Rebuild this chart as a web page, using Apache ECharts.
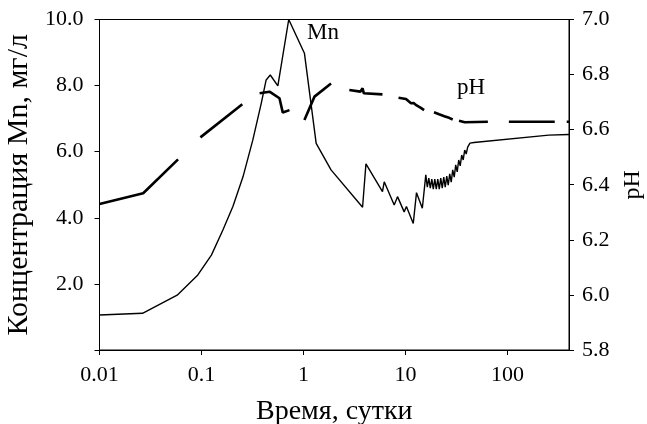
<!DOCTYPE html>
<html lang="ru">
  <head>
    <meta charset="UTF-8" />
    <title>Mn и pH</title>
    <style>
      html, body { margin: 0; padding: 0; background: #fff; }
      #main { width: 647px; height: 424px; }
    </style>
  </head>
  <body>
    <div id="main"></div>
    <script src="https://cdn.jsdelivr.net/npm/echarts@6/dist/echarts.min.js"></script>
    <script>
      // время (сутки), концентрация Mn (мг/л)
      var mnTime = [0.01, 0.0264, 0.0577, 0.092, 0.125, 0.162, 0.203, 0.255, 0.318, 0.385, 0.43, 0.472, 0.56, 0.716,
        1.02, 1.33, 1.86, 3.79, 4.09, 5.94, 6.18, 7.74, 8.34, 9.69, 10.2, 11.9, 12.8, 14.6,
        15.79, 16.34, 16.9, 17.48, 18.08, 18.7, 19.34, 20.0, 20.69, 21.4, 22.13, 22.89, 23.68, 24.49,
        25.33, 26.2, 27.1, 28.03, 28.99, 29.99, 31.02, 32.09, 33.19, 34.33, 35.51, 36.73, 37.99, 39.3,
        40.64, 42.8, 46.8, 253, 400];
      var mnValue = [1.06, 1.11, 1.66, 2.27, 2.87, 3.63, 4.34, 5.24, 6.35, 7.46, 8.17, 8.32, 7.99, 10.0,
        8.98, 6.25, 5.45, 4.32, 5.63, 4.79, 5.09, 4.39, 4.64, 4.18, 4.34, 3.83, 4.76, 4.29,
        5.30, 4.93, 5.20, 4.90, 5.17, 4.87, 5.17, 4.87, 5.17, 4.87, 5.20, 4.90, 5.23, 4.93,
        5.26, 4.99, 5.33, 5.08, 5.45, 5.23, 5.60, 5.39, 5.75, 5.57, 5.90, 5.75, 6.05, 5.93,
        6.14, 6.26, 6.28, 6.50, 6.52];

      // pH: отрезки пунктира [время, pH]
      var phSegments = [
        [[0.01, 6.33], [0.0268, 6.369], [0.0589, 6.492]],
        [[0.0975, 6.572], [0.251, 6.692]],
        [[0.371, 6.732], [0.464, 6.738], [0.581, 6.714], [0.626, 6.662], [0.728, 6.671]],
        [[1.02, 6.635], [1.28, 6.72], [1.86, 6.768]],
        [[2.81, 6.744], [3.6, 6.738], [3.79, 6.75], [3.9, 6.732], [5.94, 6.728]],
        [[8.53, 6.716], [10.1, 6.711], [10.8, 6.702], [11.3, 6.696], [12.0, 6.697], [12.6, 6.69], [14.0, 6.68], [15.2, 6.671]],
        [[19.0, 6.663], [21.3, 6.656], [24.0, 6.649], [26.7, 6.643], [29.0, 6.637]],
        [[33.4, 6.632], [38.0, 6.627], [64.1, 6.629]],
        [[103, 6.629], [290, 6.629]],
        [[380, 6.629], [400, 6.629]]
      ];

      var xTicks = [0.01, 0.1, 1, 10, 100];

      var mnData = mnTime.map(function (t, i) { return [t, mnValue[i]]; });
      var phData = [];
      phSegments.forEach(function (seg, i) {
        if (i > 0) phData.push([seg[0][0], '-']);
        seg.forEach(function (p) { phData.push(p); });
      });

      var font = 'Liberation Serif';
      var myChart = echarts.init(document.getElementById('main'));
      var option = {
        animation: false,
        textStyle: { fontFamily: font, color: '#000' },
        grid: {
          left: 99.5, right: 78, top: 19.5, bottom: 74,
          outerBoundsMode: 'none',
          containLabel: false,
          show: true, borderColor: '#000', borderWidth: 1
        },
        xAxis: {
          type: 'log',
          logBase: 10,
          min: 0.01,
          max: 400,
          name: 'Время, сутки',
          nameLocation: 'middle',
          nameGap: 48,
          nameTextStyle: { fontFamily: font, fontSize: 28, color: '#000' },
          axisLine: { lineStyle: { color: '#000', width: 1 } },
          axisTick: { show: true, length: 5, lineStyle: { color: '#000' } },
          splitLine: { show: false },
          axisLabel: {
            fontFamily: font, fontSize: 22, color: '#000', margin: 14,
            showMaxLabel: false,
            formatter: function (v) {
              for (var i = 0; i < xTicks.length; i++) {
                if (Math.abs(v - xTicks[i]) / xTicks[i] < 1e-6) return String(xTicks[i]);
              }
              return '';
            }
          }
        },
        yAxis: [
          {
            type: 'value',
            min: 0, max: 10, interval: 2,
            name: 'Концентрация Mn, мг/л',
            nameLocation: 'middle',
            nameGap: 65,
            nameRotate: 90,
            nameTextStyle: { fontFamily: font, fontSize: 30, color: '#000' },
            axisLine: { show: true, lineStyle: { color: '#000', width: 1 } },
            axisTick: { show: true, length: 5, lineStyle: { color: '#000' } },
            splitLine: { show: false },
            axisLabel: {
              fontFamily: font, fontSize: 22, color: '#000', margin: 16,
              formatter: function (v) { return v === 0 ? '' : v.toFixed(1); }
            }
          },
          {
            type: 'value',
            position: 'right',
            min: 5.8, max: 7.0, interval: 0.2,
            name: 'pH',
            nameLocation: 'middle',
            nameGap: 42,
            nameRotate: 90,
            nameTextStyle: { fontFamily: font, fontSize: 24, color: '#000' },
            axisLine: { show: true, lineStyle: { color: '#000', width: 1 } },
            axisTick: { show: true, length: 5, lineStyle: { color: '#000' } },
            splitLine: { show: false },
            axisLabel: {
              fontFamily: font, fontSize: 22, color: '#000', margin: 13,
              formatter: function (v) { return v.toFixed(1); }
            }
          }
        ],
        graphic: [
          { type: 'text', left: 307, top: 21, style: { text: 'Mn', font: '23px "Liberation Serif"', fill: '#000' } },
          { type: 'text', left: 457, top: 76, style: { text: 'pH', font: '23px "Liberation Serif"', fill: '#000' } }
        ],
        series: [
          {
            name: 'Mn',
            type: 'line',
            yAxisIndex: 0,
            data: mnData,
            showSymbol: false,
            symbol: 'none',
            lineStyle: { color: '#000', width: 1.4 },
            z: 3
          },
          {
            name: 'pH',
            type: 'line',
            yAxisIndex: 1,
            data: phData,
            connectNulls: false,
            showSymbol: false,
            symbol: 'none',
            lineStyle: { color: '#000', width: 2.6 },
            z: 2
          }
        ]
      };
      myChart.setOption(option);
    </script>
  </body>
</html>
